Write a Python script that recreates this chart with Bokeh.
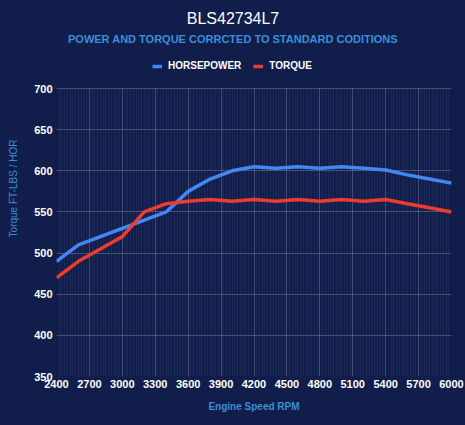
from bokeh.plotting import figure
from bokeh.models import ColumnDataSource, FixedTicker, Legend, LegendItem, Label, Range1d, Grid
from bokeh.embed import file_html
from bokeh.resources import INLINE

rpm = [2400, 2600, 2800, 3000, 3200, 3400, 3600, 3800, 4000, 4200,
       4400, 4600, 4800, 5000, 5200, 5400, 5600, 5800, 6000]
horsepower = [490, 510, 520, 530, 540, 550, 575, 590, 600, 605,
              603, 605, 603, 605, 603, 601, 595, 590, 585]
torque = [470, 490, 505, 520, 550, 560, 563, 565, 563, 565,
          563, 565, 563, 565, 563, 565, 560, 555, 550]
x_ticks = list(range(2400, 6001, 300))
x_minor = list(range(2400, 6001, 25))
y_ticks = list(range(350, 701, 50))
title_text = "BLS42734L7"
subtitle_text = "POWER AND TORQUE CORRCTED TO STANDARD CODITIONS"

BG = "#111d4b"
BLUE = "#4287f5"
RED = "#ee3b30"
SUB = "#3a8fd8"
FONT = "Liberation Sans"

W, H = 465, 425
ML, MR, MB = 56, 14, 49
HEADER = 88                      # space above the 700 line, part of the frame
FH = H - MB                      # frame height (frame reaches the top edge)
PLOT_H = FH - HEADER
Y0, Y1 = 350, 700
YTOP = Y1 + HEADER * (Y1 - Y0) / PLOT_H

src = ColumnDataSource(dict(rpm=rpm, hp=horsepower, tq=torque))

p = figure(width=W, height=H, output_backend="svg", toolbar_location=None,
           x_range=Range1d(2400, 6000), y_range=Range1d(Y0, YTOP),
           min_border_left=ML, min_border_right=MR, min_border_top=0, min_border_bottom=MB)
p.background_fill_color = BG
p.border_fill_color = BG
p.outline_line_color = None

p.xaxis.ticker = FixedTicker(ticks=x_ticks, minor_ticks=x_minor)
p.yaxis.ticker = FixedTicker(ticks=y_ticks)
for ax in (p.xaxis[0], p.yaxis[0]):
    ax.axis_line_color = None
    ax.major_tick_line_color = None
    ax.minor_tick_line_color = None
    ax.major_tick_out = 0
    ax.minor_tick_out = 0
    ax.major_tick_in = 0
    ax.minor_tick_in = 0
    ax.major_label_text_color = "white"
    ax.major_label_text_font = FONT
    ax.major_label_text_font_size = "11px"
    ax.major_label_text_font_style = "bold"
    ax.axis_label_text_color = SUB
    ax.axis_label_text_font = FONT
    ax.axis_label_text_font_size = "10px"
p.yaxis.bounds = (Y0, Y1)
p.xaxis.axis_label = "Engine Speed RPM"
p.xaxis.axis_label_text_font_style = "bold"
p.yaxis.axis_label = "Torque FT-LBS / HOR"
p.yaxis.axis_label_text_font_style = "normal"
p.xaxis.major_label_standoff = 3
p.yaxis.major_label_standoff = 4
p.xaxis.axis_label_standoff = 10
p.yaxis.axis_label_standoff = 12

p.xgrid.grid_line_color = "white"
p.xgrid.grid_line_alpha = 0.18
p.xgrid.minor_grid_line_color = "white"
p.xgrid.minor_grid_line_alpha = 0.05
p.ygrid.grid_line_color = "white"
p.ygrid.grid_line_alpha = 0.22
if "cross_bounds" in Grid.properties():
    p.xgrid.cross_bounds = (Y0, Y1)
    p.ygrid.cross_bounds = (2400, 6000)
else:
    p.xgrid.visible = False
    p.segment(x0=x_minor, x1=x_minor, y0=[Y0] * len(x_minor), y1=[Y1] * len(x_minor),
              line_color="white", line_alpha=0.05, line_width=1)
    p.segment(x0=x_ticks, x1=x_ticks, y0=[Y0] * len(x_ticks), y1=[Y1] * len(x_ticks),
              line_color="white", line_alpha=0.18, line_width=1)

r_hp = p.line("rpm", "hp", source=src, line_color=BLUE, line_width=3.5)
r_tq = p.line("rpm", "tq", source=src, line_color=RED, line_width=3.5)

CX = W / 2 - ML   # page centre, in frame coordinates
legend = Legend(items=[LegendItem(label="HORSEPOWER", renderers=[r_hp]),
                       LegendItem(label="TORQUE", renderers=[r_tq])],
                orientation="horizontal", location=(96, FH - 71),
                background_fill_alpha=0, border_line_color=None,
                label_text_color="white", label_text_font=FONT,
                label_text_font_size="10px", label_text_font_style="bold",
                glyph_width=10, glyph_height=10, spacing=12, label_standoff=6,
                padding=2, margin=0)
p.add_layout(legend, "center")

p.add_layout(Label(x=CX, y=FH - 18, x_units="screen", y_units="screen", text=title_text,
                   text_align="center", text_baseline="middle", text_color="white",
                   text_font=FONT, text_font_size="16px"))
p.add_layout(Label(x=CX, y=FH - 38, x_units="screen", y_units="screen", text=subtitle_text,
                   text_align="center", text_baseline="middle", text_color=SUB,
                   text_font=FONT, text_font_size="11px", text_font_style="bold"))

html = file_html(p, INLINE)
html = html.replace("</head>", "<style>html,body{background:%s;margin:0;overflow:hidden;}</style></head>" % BG, 1)
open("out.html", "w").write(html)
